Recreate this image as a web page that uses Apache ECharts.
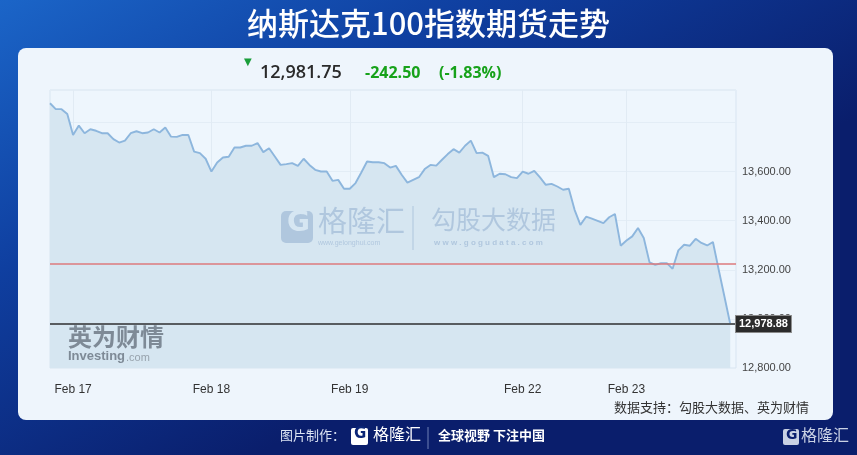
<!DOCTYPE html>
<html>
<head>
<meta charset="utf-8">
<script src="https://cdn.jsdelivr.net/npm/echarts@6/dist/echarts.min.js"></script>
<style>
  html, body { margin: 0; padding: 0; }
  #chart { width: 857px; height: 455px; }
</style>
</head>
<body>
<div id="chart"></div>
<script>
// 小时收盘价
const prices = [
  13878, 13854, 13854, 13834, 13749, 13787, 13756, 13772, 13766, 13756,
  13756, 13732, 13718, 13726, 13756, 13764, 13756, 13759, 13772, 13759,
  13779, 13742, 13741, 13749, 13749, 13681, 13675, 13652, 13600, 13637,
  13657, 13660, 13698, 13698, 13705, 13705, 13716, 13679, 13695, 13661,
  13627, 13630, 13634, 13623, 13652, 13627, 13607, 13600, 13600, 13562,
  13566, 13530, 13530, 13553, 13596, 13641, 13638, 13638, 13634, 13616,
  13623, 13587, 13555, 13566, 13577, 13610, 13627, 13624, 13648, 13671,
  13691, 13677, 13705, 13726, 13675, 13677, 13664, 13577, 13591, 13589,
  13577, 13573, 13600, 13591, 13603, 13576, 13546, 13550, 13539, 13526,
  13530, 13444, 13383, 13416, 13408, 13399, 13390, 13414, 13427, 13298,
  13319, 13336, 13370, 13329, 13230, 13220, 13227, 13227, 13204, 13279,
  13302, 13298, 13326, 13309, 13299, 13313, 13200, 13090, 12978.88
]
const dayLabels = ['Feb 17', 'Feb 18', 'Feb 19', 'Feb 22', 'Feb 23']
const dayIndex = [4, 28, 52, 82, 100]
const yTicks = [12800, 13000, 13200, 13400, 13600]
const prevClose = 13224.25
const lastPrice = 12978.88

const slots = Array.from({ length: prices.length + 1 }, (_, i) => String(i))
const isDay = (i) => dayIndex.indexOf(i) >= 0

const chart = echarts.init(document.getElementById('chart'))

const wm = 'rgba(95,135,185,0.32)'

chart.setOption({
  animation: false,
  backgroundColor: new echarts.graphic.LinearGradient(0, 0, 0.3, 1, [
    { offset: 0, color: '#1b65c8' },
    { offset: 0.45, color: '#0f3fa0' },
    { offset: 1, color: '#0a1e6c' }
  ]),
  title: {
    text: '纳斯达克100指数期货走势',
    left: 'center',
    top: 3,
    textStyle: {
      color: '#fff',
      fontSize: 31,
      fontWeight: 500,
      fontFamily: 'Noto Sans CJK SC'
    }
  },
  graphic: [
    // 卡片
    {
      type: 'rect', z: -10, silent: true,
      shape: { x: 18, y: 48, width: 815, height: 372, r: 8 },
      style: { fill: '#eef5fc' }
    },
    // 报价
    {
      type: 'text', left: 244, top: 57, z: 10,
      style: { text: '▼', fill: '#1a9e3a', font: '10px DejaVu Sans' }
    },
    {
      type: 'text', left: 260, top: 64, z: 10,
      style: { text: '12,981.75', fill: '#2a2a2a', font: '600 18px "Open Sans"' }
    },
    {
      type: 'text', left: 365, top: 65, z: 10,
      style: { text: '-242.50', fill: '#17a21a', font: 'bold 16px "Open Sans"' }
    },
    {
      type: 'text', left: 439, top: 65, z: 10,
      style: { text: '(-1.83%)', fill: '#17a21a', font: 'bold 16px "Open Sans"' }
    },
    // 水印：格隆汇
    {
      type: 'rect', z: 5, silent: true,
      shape: { x: 281, y: 211, width: 32, height: 32, r: 5 },
      style: { fill: wm }
    },
    {
      type: 'text', left: 287, top: 210, z: 6,
      style: { text: 'G', fill: '#d6e6f2', font: 'bold 28px "DejaVu Sans"' }
    },
    {
      type: 'text', left: 318, top: 206, z: 5,
      style: { text: '格隆汇', fill: wm, font: '29px "Noto Sans CJK SC"' }
    },
    {
      type: 'text', left: 318, top: 240, z: 5,
      style: { text: 'www.gelonghui.com', fill: wm, font: '7px Arial' }
    },
    {
      type: 'line', z: 5, silent: true,
      shape: { x1: 413, y1: 206, x2: 413, y2: 250 },
      style: { stroke: wm, lineWidth: 1 }
    },
    {
      type: 'text', left: 431, top: 207, z: 5,
      style: { text: '勾股大数据', fill: wm, font: '25px "Noto Sans CJK SC"' }
    },
    {
      type: 'text', left: 434, top: 239, z: 5,
      style: { text: 'w w w . g o g u d a t a . c o m', fill: wm, font: 'bold 8px Arial' }
    },
    // 水印：英为财情
    {
      type: 'text', left: 68, top: 325, z: 5,
      style: { text: '英为财情', fill: '#7e8a96', font: 'bold 24px "Noto Sans CJK SC"' }
    },
    {
      type: 'text', left: 68, top: 350, z: 5,
      style: { text: 'Investing', fill: '#7e8a96', font: 'bold 13px Arial' }
    },
    {
      type: 'text', left: 126, top: 352, z: 5,
      style: { text: '.com', fill: '#98a3ad', font: '11px Arial' }
    },
    // 数据来源
    {
      type: 'text', left: 614, top: 401, z: 10,
      style: { text: '数据支持：勾股大数据、英为财情', fill: '#333', font: '13px "Noto Sans CJK SC"' }
    },
    // 页脚
    {
      type: 'text', left: 280, top: 429, z: 10,
      style: { text: '图片制作：', fill: '#dbe3f3', font: '13px "Noto Sans CJK SC"' }
    },
    {
      type: 'rect', z: 10, silent: true,
      shape: { x: 351, y: 428, width: 17, height: 17, r: 2 },
      style: { fill: '#fff' }
    },
    {
      type: 'text', left: 354, top: 427, z: 11,
      style: { text: 'G', fill: '#0c2678', font: 'bold 15px "DejaVu Sans"' }
    },
    {
      type: 'text', left: 373, top: 426, z: 10,
      style: { text: '格隆汇', fill: '#fff', font: '16px "Noto Sans CJK SC"' }
    },
    {
      type: 'line', z: 10, silent: true,
      shape: { x1: 428, y1: 427, x2: 428, y2: 449 },
      style: { stroke: '#6f80b5', lineWidth: 1 }
    },
    {
      type: 'text', left: 438, top: 429, z: 10,
      style: { text: '全球视野 下注中国', fill: '#fff', font: 'bold 13px "Noto Sans CJK SC"' }
    },
    {
      type: 'rect', z: 10, silent: true,
      shape: { x: 783, y: 429, width: 16, height: 16, r: 2 },
      style: { fill: '#c9d1e4' }
    },
    {
      type: 'text', left: 786, top: 428, z: 11,
      style: { text: 'G', fill: '#0b1f6e', font: 'bold 14px "DejaVu Sans"' }
    },
    {
      type: 'text', left: 801, top: 427, z: 10,
      style: { text: '格隆汇', fill: '#c9d1e4', font: '16px "Noto Sans CJK SC"' }
    }
  ],
  grid: {
    left: 50,
    right: 121,
    top: 90,
    bottom: 87,
    show: true,
    backgroundColor: '#eef6fd',
    borderColor: '#d8e5f1',
    borderWidth: 1
  },
  xAxis: {
    type: 'category',
    data: slots,
    boundaryGap: false,
    axisLine: { show: false },
    axisTick: { show: false },
    axisLabel: {
      interval: (i) => isDay(i),
      formatter: (v) => dayLabels[dayIndex.indexOf(Number(v))] || '',
      color: '#333',
      fontSize: 12,
      fontFamily: 'Arial',
      margin: 16
    },
    splitLine: {
      show: true,
      interval: (i) => isDay(i),
      lineStyle: { color: '#e1ebf4', width: 1 }
    }
  },
  yAxis: {
    type: 'value',
    position: 'right',
    min: 12800,
    max: 13932,
    interval: 200,
    axisLine: { show: false },
    axisTick: { show: false },
    axisLabel: {
      color: '#444',
      fontSize: 11,
      fontFamily: 'Arial',
      margin: 6,
      formatter: (v) => yTicks.indexOf(v) >= 0
        ? v.toLocaleString('en-US', { minimumFractionDigits: 2 }) : ''
    },
    splitLine: { lineStyle: { color: '#e3edf6', width: 1 } }
  },
  series: [{
    type: 'line',
    data: prices,
    symbol: 'none',
    lineStyle: { color: '#8db6dd', width: 1.9 },
    areaStyle: { color: '#d6e6f1', opacity: 1, origin: 'start' },
    markLine: {
      silent: true,
      symbol: ['none', 'none'],
      data: [
        {
          yAxis: prevClose,
          lineStyle: { color: '#dc7a7c', width: 1.5, type: 'solid' },
          label: { show: false }
        },
        {
          yAxis: lastPrice,
          lineStyle: { color: '#585c60', width: 2, type: 'solid' },
          label: {
            show: true,
            position: 'end',
            distance: 0,
            formatter: '12,978.88',
            color: '#fff',
            fontSize: 11,
            fontFamily: 'Arial',
            fontWeight: 'bold',
            backgroundColor: '#2b2b2b',
            borderColor: '#8a8a8a',
            borderWidth: 1,
            padding: [3, 3, 2, 3]
          }
        }
      ]
    }
  }]
})
</script>
</body>
</html>
